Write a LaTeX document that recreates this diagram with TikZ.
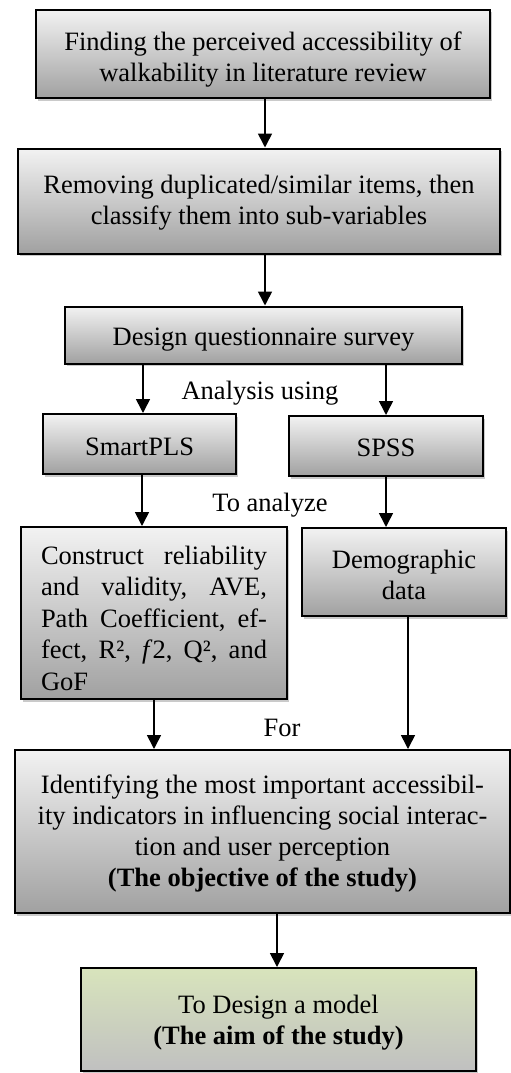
\documentclass[tikz,border=0pt]{standalone}
\usepackage{fontspec}
\setmainfont{Liberation Serif}
\usetikzlibrary{shadows,arrows.meta,calc}
\definecolor{greentop}{RGB}{216,228,188}
\definecolor{greenbot}{RGB}{192,192,192}
\newcommand{\mystrut}[1]{\rule{0pt}{#1pt}}
\begin{document}
\begin{tikzpicture}[x=1pt,y=-1pt,
  box/.style={draw=black, line width=2pt, top color=black!5, bottom color=black!37,
    drop shadow={shadow xshift=1.5pt, shadow yshift=-2.5pt, opacity=0.35, fill=black!60},
    inner sep=0pt, align=center, font=\fontsize{26.5}{31}\selectfont},
  greenbox/.style={box, top color=greentop, bottom color=greenbot},
  arr/.style={line width=1.6pt, -{Triangle[length=14pt,width=14pt]}},
  lbl/.style={font=\fontsize{26.5}{31}\selectfont, inner sep=0pt}]
\useasboundingbox (0,0) rectangle (511,1073);

\node[box, minimum width=454pt, minimum height=88pt] (b1) at (263,54)
  {\mystrut{29}Finding the perceived accessibility of\\walkability in literature review};
\node[box, minimum width=482pt, minimum height=105pt] (b2) at (259,201)
  {\mystrut{21.5}Removing duplicated/similar items, then\\classify them into sub-variables};
\node[box, minimum width=397pt, minimum height=57pt] (b3) at (263.5,335)
  {\mystrut{26}Design questionnaire survey};
\node[box, minimum width=193pt, minimum height=60pt] (sp) at (139.5,444) {\mystrut{24}SmartPLS};
\node[box, minimum width=194pt, minimum height=60pt] (ss) at (386,446) {\mystrut{22}SPSS};
\node[box, minimum width=266pt, minimum height=172pt, text width=226pt, align=left,
  font=\fontsize{26.5}{31.5}\selectfont] (cr) at (154,613)
  {\hbox to 226pt{\mystrut{29}Construct\hfill reliability}
   \hbox to 226pt{and\hfill validity,\hfill AVE,}
   \hbox to 226pt{Path\hfill Coefficient,\hfill ef-}
   \hbox to 226pt{fect,\hfill R²,\hfill \textit{f}2,\hfill Q²,\hfill and}
   \hbox to 226pt{GoF\hfil}};
\node[box, minimum width=204pt, minimum height=88pt] (dd) at (404,572)
  {\mystrut{24}Demographic\\data};
\node[box, minimum width=495pt, minimum height=163pt] (ob) at (262.5,831.5)
  {\mystrut{23}Identifying the most important accessibil-\\ity indicators in influencing social interac-\\tion and user perception\\\textbf{(The objective of the study)}};
\node[greenbox, minimum width=395pt, minimum height=103pt] (aim) at (278.5,1019.5)
  {\mystrut{25}To Design a model\\\textbf{(The aim of the study)}};

\node[lbl] (l1) at (260,393) {Analysis using};
\node[lbl] (l2) at (270,505) {To analyze};
\node[lbl] (l3) at (282,728) {For};

\draw[arr] ([xshift=2pt]b1.south) -- ([xshift=2pt]b1.south |- b2.north);
\draw[arr] ([xshift=1.5pt]b3.north |- b2.south) -- ([xshift=1.5pt]b3.north);
\draw[arr] ([xshift=3.5pt]sp.north |- b3.south) -- ([xshift=3.5pt]sp.north);
\draw[arr] (ss.north |- b3.south) -- (ss.north);
\draw[arr] ([xshift=2.5pt]sp.south) -- ([xshift=2.5pt]sp.south |- cr.north);
\draw[arr] (ss.south) -- (ss.south |- dd.north);
\draw[arr] (cr.south) -- (cr.south |- ob.north);
\draw[arr] ([xshift=4pt]dd.south) -- ([xshift=4pt]dd.south |- ob.north);
\draw[arr] ([xshift=-1.5pt]aim.north |- ob.south) -- ([xshift=-1.5pt]aim.north);
\end{tikzpicture}
\end{document}
